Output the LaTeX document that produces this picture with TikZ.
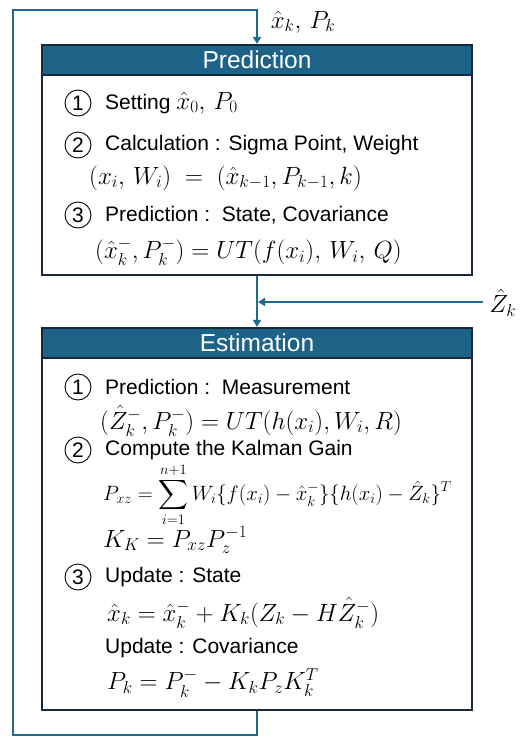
\documentclass[tikz,border=0pt]{standalone}
\usepackage{amsmath}
\usepackage{fontspec}
\setmainfont{Liberation Sans}
\usetikzlibrary{arrows.meta}
\definecolor{hdr}{HTML}{1D6387}
\definecolor{loopc}{HTML}{1F6B8F}
\definecolor{frame}{HTML}{17293A}
\tikzset{
  box/.style={draw=frame, line width=2.2pt, fill=white, minimum width=430pt, inner sep=0pt},
  head/.style={fill=hdr, draw=frame, line width=1.2pt, minimum width=430pt, minimum height=30pt, inner sep=0pt, text=white, font=\fontsize{24.5}{28}\selectfont},
  num/.style={circle, draw=black, line width=0.9pt, minimum size=26pt, inner sep=0pt, font=\fontsize{21}{24}\selectfont},
  lbl/.style={anchor=west, inner sep=0pt, font=\fontsize{21}{24}\selectfont},
  eq/.style={anchor=west, inner sep=0pt, font=\fontsize{26}{30}\selectfont},
  flow/.style={draw=loopc, line width=2pt},
  tipd/.style={-{Triangle[width=8pt,length=7pt]}}
}
\begin{document}
\begin{tikzpicture}[x=1pt,y=-1pt]
\useasboundingbox (0,0) rectangle (531,737);
% boxes
\node[box, minimum height=230pt] (pred) at (257,160) {};
\node[head] (predh) at (257,60) {Prediction};
\node[box, minimum height=382pt] (est) at (257,519) {};
\node[head] (esth) at (257,343) {Estimation};
% connectors
\coordinate (c1) at (257,735);
\coordinate (c2) at (13,10);
\draw[flow, tipd] (est.south) -- (c1) -| (c2) -| (pred.north);
\draw[flow, tipd] (pred.south) -- (est.north);
\coordinate (zs) at (483,302);
\coordinate (zj) at (258,302);
\draw[flow, tipd] (zs) -- (zj);
\node[inner sep=0pt, font=\fontsize{25}{28}\selectfont] (xl) at (303,22) {$\hat x_k,\, P_k$};
\node[inner sep=0pt, font=\fontsize{25}{28}\selectfont] (zl) at (503,303) {$\hat Z_k$};
% prediction content
\node[num] (p1) at (78,103) {1};
\node[lbl] (p1t) at (105,103) {Setting {\fontsize{23}{26}\selectfont$\hat x_0,\, P_0$}};
\node[num] (p2) at (78,145) {2};
\node[lbl] (p2t) at (105,145) {Calculation : Sigma Point, Weight};
\node[eq] (p2e) at (89,178) {$(x_i,\, W_i) \;=\; (\hat x_{k-1}, P_{k-1}, k)$};
\node[num] (p3) at (78,215) {3};
\node[lbl] (p3t) at (105,215) {Prediction :\ \ State, Covariance};
\node[eq] (p3e) at (95,252) {$(\hat x^-_k, P^-_k) = UT(f(x_i),\, W_i,\, Q)$};
% estimation content
\node[num] (e1) at (78,387) {1};
\node[lbl] (e1t) at (105,387) {Prediction :\ \ Measurement};
\node[eq] (e1e) at (100,421) {$(\hat Z^-_k, P^-_k) = UT(h(x_i), W_i, R)$};
\node[num] (e2) at (78,450) {2};
\node[lbl] (e2t) at (105,450) {Compute the Kalman Gain};
\node[eq, font=\fontsize{20}{24}\selectfont] (e2e) at (103,495) {$\displaystyle P_{xz} = \sum_{i=1}^{n+1} W_i\{f(x_i) - \hat x^-_k\}\{h(x_i) - \hat Z_k\}^T$};
\node[eq, font=\fontsize{25}{28}\selectfont] (e2f) at (103,540) {$K_K = P_{xz} P_z^{-1}$};
\node[num] (e3) at (78,577) {3};
\node[lbl] (e3t) at (105,577) {Update : State};
\node[eq, font=\fontsize{25}{28}\selectfont] (e3e) at (107,613) {$\hat x_k = \hat x^-_k + K_k(Z_k - H\hat Z^-_k)$};
\node[lbl] (e4t) at (105,648) {Update : Covariance};
\node[eq, font=\fontsize{24}{28}\selectfont] (e4e) at (107,683) {$P_k = P^-_k - K_k P_z K_k^T$};
\end{tikzpicture}
\end{document}
